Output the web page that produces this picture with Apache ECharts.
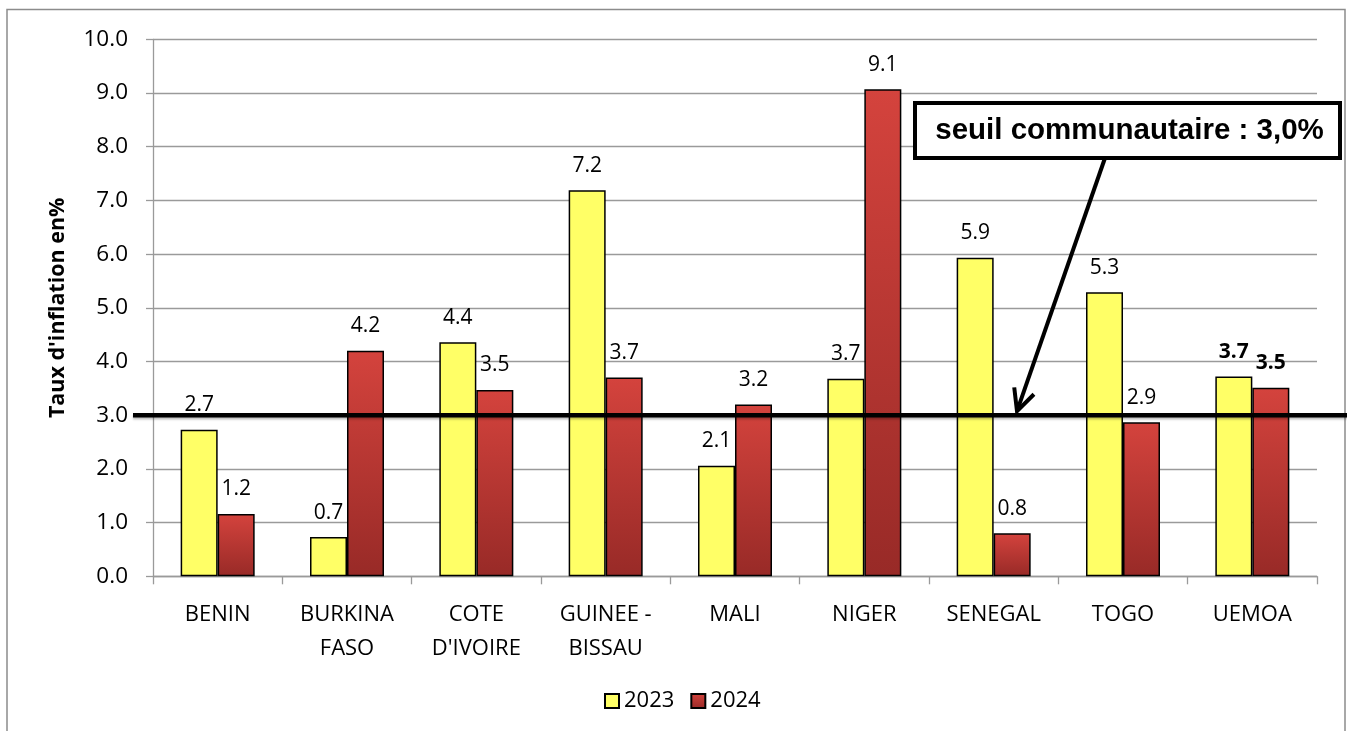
<!DOCTYPE html>
<html>
<head>
<meta charset="utf-8">
<script src="https://cdn.jsdelivr.net/npm/echarts@6/dist/echarts.min.js"></script>
<style>
  html, body { margin: 0; padding: 0; background: #fff; }
  #chart { width: 1347px; height: 731px; }
</style>
</head>
<body>
<div id="chart"></div>
<script>
// ---- data ----
const categories = ['BENIN', 'BURKINA\nFASO', "COTE\nD'IVOIRE", 'GUINEE -\nBISSAU', 'MALI', 'NIGER', 'SENEGAL', 'TOGO', 'UEMOA'];
const values2023 = [2.73, 0.73, 4.36, 7.19, 2.06, 3.68, 5.93, 5.29, 3.72];
const values2024 = [1.16, 4.20, 3.47, 3.70, 3.20, 9.07, 0.80, 2.87, 3.51];
const seriesNames = ['2023', '2024'];
const yMin = 0, yMax = 10, yInterval = 1;
const threshold = 3.0;
const annotationText = 'seuil communautaire : 3,0%';
const yAxisTitle = "Taux d'inflation en%";
const boldIndex = categories.length - 1; // UEMOA aggregate labels are bold

// ---- chart ----
const chart = echarts.init(document.getElementById('chart'), null, { renderer: 'canvas' });
const FONT = 'Open Sans';

function makeData(values) {
  return values.map((v, i) => i === boldIndex ? { value: v, label: { fontWeight: 'bold' } } : v);
}

const labelCfg = {
  show: true,
  position: 'top',
  distance: 14,
  fontFamily: FONT,
  fontSize: 21,
  color: '#000',
  formatter: p => Number(p.value).toFixed(1)
};

const option = {
  animation: false,
  backgroundColor: '#fff',
  grid: { left: 153, right: 30, top: 39.3, bottom: 154.7, containLabel: false, outerBoundsMode: 'none' },
  legend: {
    data: seriesNames,
    left: 599,
    top: 685,
    itemWidth: 14,
    itemHeight: 14,
    itemGap: 16,
    icon: 'rect',
    textStyle: { fontFamily: FONT, fontSize: 22, color: '#000' }
  },
  xAxis: {
    type: 'category',
    data: categories,
    axisLine: { lineStyle: { color: '#9a9a9a', width: 1.3 } },
    axisTick: { show: true, length: 8, lineStyle: { color: '#9a9a9a', width: 1.3 } },
    axisLabel: { fontFamily: FONT, fontSize: 22, color: '#000', lineHeight: 34, margin: 21, interval: 0 }
  },
  yAxis: {
    type: 'value',
    min: yMin, max: yMax, interval: yInterval,
    name: yAxisTitle,
    nameLocation: 'middle',
    nameRotate: 90,
    nameGap: 84,
    nameTextStyle: { fontFamily: FONT, fontSize: 21.5, fontWeight: 'bold', color: '#000' },
    axisLine: { show: true, lineStyle: { color: '#9a9a9a', width: 1.3 } },
    axisTick: { show: true, length: 7, lineStyle: { color: '#9a9a9a', width: 1.3 } },
    axisLabel: { fontFamily: FONT, fontSize: 22.5, color: '#000', margin: 25, formatter: v => v.toFixed(1) },
    splitLine: { show: true, lineStyle: { color: '#9a9a9a', width: 1.3 } }
  },
  series: [
    {
      name: seriesNames[0],
      type: 'bar',
      barWidth: 37,
      barGap: '0%',
      data: makeData(values2023),
      itemStyle: { color: '#FFFF66', borderColor: '#000', borderWidth: 1.5 },
      label: labelCfg
    },
    {
      name: seriesNames[1],
      type: 'bar',
      barWidth: 37,
      barGap: '0%',
      data: makeData(values2024),
      itemStyle: {
        color: new echarts.graphic.LinearGradient(0, 0, 0, 1, [
          { offset: 0, color: '#D4433D' },
          { offset: 1, color: '#982A27' }
        ]),
        borderColor: '#000', borderWidth: 1.5
      },
      label: labelCfg
    }
  ]
};
chart.setOption(option);

// ---- annotations (threshold line, callout box, arrow) ----
const yT = chart.convertToPixel({ yAxisIndex: 0 }, threshold);
const boxX = 915, boxY = 103, boxW = 425, boxH = 55;
const arrowStart = [1105, boxY + boxH];
const arrowTip = [1017, yT - 4];
const dx = arrowStart[0] - arrowTip[0], dy = arrowStart[1] - arrowTip[1];
const len = Math.sqrt(dx * dx + dy * dy);
const ux = dx / len, uy = dy / len;
const headLen = 24, ang = 0.45;
function rot(x, y, a) { return [x * Math.cos(a) - y * Math.sin(a), x * Math.sin(a) + y * Math.cos(a)]; }
const w1 = rot(ux, uy, ang), w2 = rot(ux, uy, -ang);

chart.setOption({
  graphic: [
    {
      type: 'rect', z: 0, silent: true,
      shape: { x: 7, y: 9.5, width: 1338, height: 760 },
      style: { fill: 'none', stroke: '#8c8c8c', lineWidth: 1.5 }
    },
    {
      type: 'line', z: 100, silent: true,
      shape: { x1: 133, y1: yT, x2: 1347, y2: yT },
      style: { stroke: '#000', lineWidth: 4.5, shadowColor: 'rgba(0,0,0,0.25)', shadowBlur: 2, shadowOffsetY: 2 }
    },
    {
      type: 'rect', z: 101, silent: true,
      shape: { x: boxX, y: boxY, width: boxW, height: boxH },
      style: { fill: '#fff', stroke: '#000', lineWidth: 4 }
    },
    {
      type: 'text', z: 102, silent: true,
      x: boxX + boxW / 2 + 2, y: boxY + boxH / 2,
      style: {
        text: annotationText, fill: '#000',
        font: 'bold 29.5px "Liberation Sans", Arial, sans-serif',
        align: 'center', verticalAlign: 'middle'
      }
    },
    {
      type: 'line', z: 101, silent: true,
      shape: { x1: arrowStart[0], y1: arrowStart[1], x2: arrowTip[0], y2: arrowTip[1] },
      style: { stroke: '#000', lineWidth: 4 }
    },
    {
      type: 'polyline', z: 101, silent: true,
      shape: { points: [
        [arrowTip[0] + w1[0] * headLen, arrowTip[1] + w1[1] * headLen],
        arrowTip,
        [arrowTip[0] + w2[0] * headLen, arrowTip[1] + w2[1] * headLen]
      ] },
      style: { stroke: '#000', lineWidth: 4, fill: 'none', lineJoin: 'miter' }
    }
  ]
});
</script>
</body>
</html>
